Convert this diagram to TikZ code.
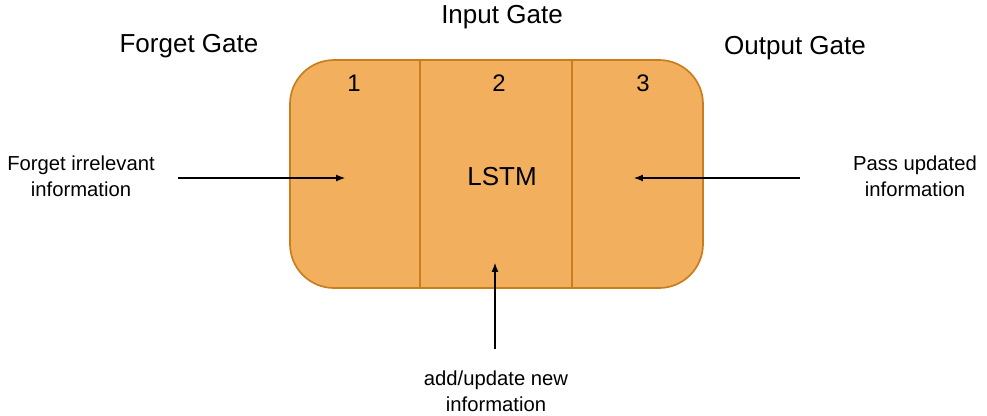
\documentclass[tikz,border=0pt]{standalone}
\usepackage{fontspec}
\setmainfont{Liberation Sans}
\usetikzlibrary{positioning, arrows.meta, calc}
\definecolor{gatefill}{HTML}{F2AF5E}
\definecolor{gateedge}{HTML}{C97D1C}

\begin{document}
\begin{tikzpicture}[
  x=0.025cm, y=-0.025cm,
  gatearrow/.style={-{Latex[length=2.2mm, width=1.7mm]}, line width=0.75pt},
  gatetitle/.style={font=\fontsize{18.5}{22}\selectfont, inner sep=0pt},
  gatenum/.style={font=\fontsize{17}{20}\selectfont, inner sep=0pt},
  gatenote/.style={font=\fontsize{14.4}{18.5}\selectfont, align=center, inner sep=0pt},
  lstmbox/.style={draw=gateedge, line width=1.2pt, fill=gatefill,
                  rounded corners=1.1cm}
]
\useasboundingbox (0,0) rectangle (987,415);

% -------- CAIXA LSTM --------
\draw[lstmbox] (290,60) rectangle (703,288);
\coordinate (d1t) at (420,60);  \coordinate (d1b) at (420,288);
\coordinate (d2t) at (572,60);  \coordinate (d2b) at (572,288);
\draw[gateedge, line width=1.2pt] (d1t) -- (d1b);
\draw[gateedge, line width=1.2pt] (d2t) -- (d2b);

% -------- TITULOS E NUMEROS --------
\node[gatetitle] (tforget) at (189,46) {Forget Gate};
\node[gatetitle] (tinput)  at (502,17) {Input Gate};
\node[gatetitle] (toutput) at (795,48) {Output Gate};
\node[gatenum] (n1) at (354,83) {1};
\node[gatenum] (n2) at (499,83) {2};
\node[gatenum] (n3) at (643,83) {3};
\node[gatetitle] (lstm) at (502,177) {LSTM};

% -------- NOTAS --------
\node[gatenote] (fnote) at (81,176) {Forget irrelevant\\information};
\node[gatenote] (pnote) at (915,176) {Pass updated\\information};
\node[gatenote] (anote) at (496,391) {add/update new\\information};

% Pontas das setas
\coordinate (fend) at (345,178);
\coordinate (pend) at (634,178);
\coordinate (aend) at (495,263);
\coordinate (fstart) at (178,178);
\coordinate (pstart) at (800,178);
\coordinate (astart) at (495,349);

% Setas
\draw[gatearrow] (fstart) -- (fend);
\draw[gatearrow] (pstart) -- (pend);
\draw[gatearrow] (astart) -- (aend);

\end{tikzpicture}
\end{document}
